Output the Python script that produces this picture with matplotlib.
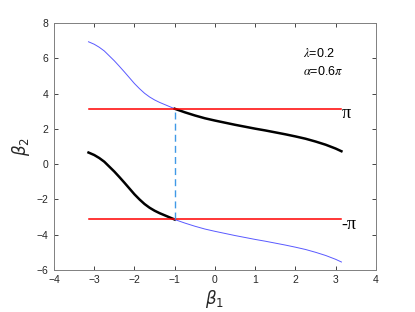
import numpy as np
import matplotlib.pyplot as plt

plt.rcParams['font.family'] = ['Liberation Sans', 'DejaVu Sans']
plt.rcParams['mathtext.fontset'] = 'stix'

# curve (upper branch), lower branch is shifted by -2*pi
beta1 = [-np.pi, -3.0, -2.875, -2.75, -2.625, -2.5, -2.375, -2.25, -2.125,
         -2.0, -1.875, -1.75, -1.625, -1.5, -1.375, -1.25, -1.125, -1.0,
         -0.75, -0.5, -0.25, 0.0, 0.25, 0.5, 0.75, 1.0, 1.25, 1.5,
         1.75, 2.0, 2.25, 2.5, 2.75, 3.0, np.pi]
beta2 = [6.94, 6.80, 6.63, 6.42, 6.14, 5.86, 5.55, 5.23, 4.90,
         4.57, 4.28, 4.02, 3.81, 3.64, 3.50, 3.38, 3.26, 3.14,
         2.94, 2.76, 2.60, 2.47, 2.35, 2.23, 2.12, 2.01, 1.91, 1.80,
         1.69, 1.57, 1.44, 1.28, 1.10, 0.88, 0.73]
x_cross = -1.0
lam_text = r'$\lambda$=0.2'
alpha_text = r'$\alpha$=0.6$\pi$'

x = np.array(beta1)
y = np.array(beta2)
up = x <= x_cross
dn = x >= x_cross

fig = plt.figure(figsize=(4.15, 3.12), dpi=100)
ax = fig.add_axes([0.130, 0.135, 0.776, 0.791])

blue = (0.35, 0.35, 1.0)
ax.plot(x[up], y[up], color=blue, lw=0.7)
ax.plot(x[dn], y[dn], color='black', lw=1.8)
ax.plot(x[up], y[up] - 2 * np.pi, color='black', lw=1.8)
ax.plot(x[dn], y[dn] - 2 * np.pi, color=blue, lw=0.7)

ax.plot([-np.pi, np.pi], [np.pi, np.pi], color='red', lw=1.1)
ax.plot([-np.pi, np.pi], [-np.pi, -np.pi], color='red', lw=1.1)
ax.plot([x_cross, x_cross], [-np.pi, np.pi], '--', color=(0.25, 0.6, 0.9),
        lw=1.0, dashes=(5, 3))

ax.text(3.14, np.pi - 0.28, 'π', fontsize=13, va='center', ha='left',
        family='Liberation Serif')
ax.text(3.14, -np.pi - 0.28, '-π', fontsize=13, va='center', ha='left',
        family='Liberation Serif')
ax.text(2.19, 6.28, lam_text, fontsize=9, va='center')
ax.text(2.19, 5.24, alpha_text, fontsize=9, va='center')

ax.set_xlim(-4, 4)
ax.set_ylim(-6, 8)
ax.set_xticks(range(-4, 5))
ax.set_yticks(range(-6, 9, 2))
ax.tick_params(direction='in', length=3, width=0.6, labelsize=7.5,
               colors=(0.15, 0.15, 0.15), top=True, right=True, pad=4)
for s in ax.spines.values():
    s.set_color((0.5, 0.5, 0.5))
    s.set_linewidth(0.7)
ax.set_xlabel(r'$\beta_1$', fontsize=12, color=(0.15, 0.15, 0.15), labelpad=2,
              math_fontfamily='dejavusans')
ax.set_ylabel(r'$\beta_2$', fontsize=12, color=(0.15, 0.15, 0.15), labelpad=3,
              math_fontfamily='dejavusans')

fig.savefig('out.png', dpi=100)
